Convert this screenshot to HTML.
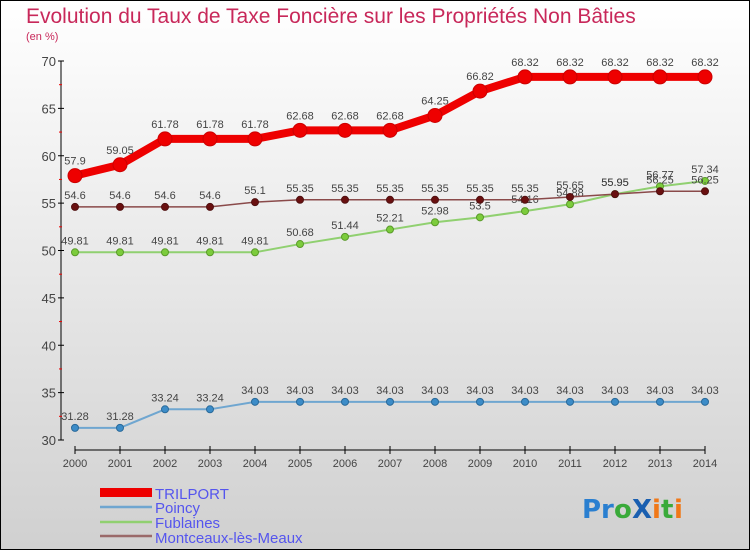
<!DOCTYPE html>
<html><head><meta charset="utf-8"><style>
body{margin:0}
#c{width:750px;height:550px;position:relative;font-family:"Liberation Sans",sans-serif;}
</style></head><body>
<div id="c">
<svg width="750" height="550" xmlns="http://www.w3.org/2000/svg" id="svg">
<defs><linearGradient id="bg" x1="0" y1="0" x2="0" y2="1"><stop offset="0" stop-color="#ffffff"/><stop offset="1" stop-color="#d0d0d0"/></linearGradient></defs>
<rect x="0.5" y="0.5" width="749" height="549" fill="url(#bg)" stroke="#000"/>
<text x="26" y="23" font-size="21" fill="#c8285a">Evolution du Taux de Taxe Foncière sur les Propriétés Non Bâties</text>
<text x="26" y="40" font-size="11" fill="#c8285a">(en %)</text>
<g id="axes"></g>
<g id="series"></g>
<g id="legend">
<rect x="100" y="488" width="52" height="9" fill="#e00"/>
<text x="155" y="499" font-size="15" fill="#5555ee">TRILPORT</text>
<line x1="100" y1="507" x2="152" y2="507" stroke="#6fa6d0" stroke-width="2.5"/>
<text x="155" y="513" font-size="15" fill="#5555ee">Poincy</text>
<line x1="100" y1="522" x2="152" y2="522" stroke="#90d070" stroke-width="2.5"/>
<text x="155" y="528" font-size="15" fill="#5555ee">Fublaines</text>
<line x1="100" y1="536" x2="152" y2="536" stroke="#9a6a6a" stroke-width="2.5"/>
<text x="155" y="543" font-size="15" fill="#5555ee">Montceaux-lès-Meaux</text>
</g>
<g font-size="26" font-family="'DejaVu Sans',sans-serif" font-weight="bold">
<text x="582" y="518" fill="#2a7fd0">Pr</text><text x="614" y="518" fill="#3aaa3a">o</text><text x="632" y="518" fill="#1a5fb0">X</text><text x="652" y="518" fill="#f07818">i</text><text x="661" y="518" fill="#3aaa3a">t</text><text x="674" y="518" fill="#f07818">i</text>
</g>
</svg>
</div>
<script>
const years=[2000,2001,2002,2003,2004,2005,2006,2007,2008,2009,2010,2011,2012,2013,2014];
const trilport=[57.9,59.05,61.78,61.78,61.78,62.68,62.68,62.68,64.25,66.82,68.32,68.32,68.32,68.32,68.32];
const poincy=[31.28,31.28,33.24,33.24,34.03,34.03,34.03,34.03,34.03,34.03,34.03,34.03,34.03,34.03,34.03];
const fublaines=[49.81,49.81,49.81,49.81,49.81,50.68,51.44,52.21,52.98,53.5,54.16,54.88,55.95,56.77,57.34];
const montceaux=[54.6,54.6,54.6,54.6,55.1,55.35,55.35,55.35,55.35,55.35,55.35,55.65,55.95,56.25,56.25];
const yTicks=[30,35,40,45,50,55,60,65,70];
const NS="http://www.w3.org/2000/svg";
const X=i=>75+i*45;
const Y=v=>61+(70-v)*(379/40);
function mk(tag,attrs,parent){const e=document.createElementNS(NS,tag);for(const k in attrs)e.setAttribute(k,attrs[k]);parent.appendChild(e);return e;}
const ax=document.getElementById('axes');
let yl=mk('line',{x1:61,y1:61,x2:61,y2:Y(30),stroke:'#000'},ax);


let xl=mk('line',{x1:75,y1:450,x2:X(14),y2:450,stroke:'#000'},ax);


yTicks.forEach(v=>{
 mk('line',{x1:58,y1:Y(v),x2:64,y2:Y(v),stroke:'#000'},ax);
 if(v<70) mk('line',{x1:59,y1:Y(v+2.5),x2:62,y2:Y(v+2.5),stroke:'#e00'},ax);
 const t=mk('text',{x:56,y:Y(v)+5,'font-size':13,'text-anchor':'end',fill:'#444'},ax);
 t.textContent=v;
 
 
});
years.forEach((y,i)=>{
 mk('line',{x1:X(i),y1:446,x2:X(i),y2:454,stroke:'#000'},ax);
 const t=mk('text',{x:X(i),y:467,'font-size':11,'text-anchor':'middle',fill:'#444'},ax);
 t.textContent=y;
 
 
});
const sg=document.getElementById('series');
function draw(vals,name,color,dot,w,r,dotStroke){
 const g=mk('g',{},sg);
 
 
 const pl=mk('polyline',{points:vals.map((v,i)=>X(i)+','+Y(v)).join(' '),fill:'none',stroke:color,'stroke-width':w,'stroke-linejoin':'round'},g);
 
 
 vals.forEach((v,i)=>{
  const c=mk('circle',{cx:X(i),cy:Y(v),r:r,fill:dot,stroke:dotStroke,'stroke-width':1},g);
  
  
  const t=mk('text',{x:X(i),y:Y(v)-8-(r>5?3:0),'font-size':11,'text-anchor':'middle',fill:'#444'},g);
  t.textContent=String(v);
  
  
 });
}
draw(poincy,'poincy','#6fa6d0','#3c8cc8',2,3.5,'#2a6a9a');
draw(fublaines,'fublaines','#90d070','#7ccc3c',2,3.5,'#5a9a2a');
draw(montceaux,'montceaux','#8a4a4a','#6a1010',1.5,3.5,'#501010');
draw(trilport,'trilport','#e00','#e00',8,7,'#c00');
</script>
</body></html>
